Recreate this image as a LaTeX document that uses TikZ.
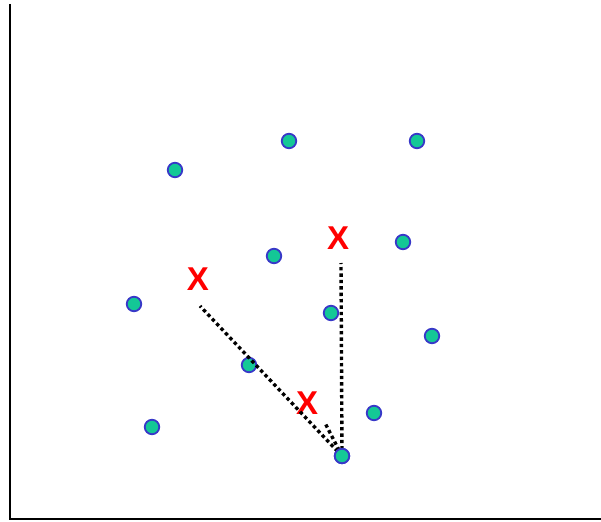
\documentclass[tikz,border=0pt]{standalone}
\usepackage{fontspec}
\setmainfont{Liberation Sans}
\definecolor{ptfill}{HTML}{14C896}
\definecolor{ptedge}{HTML}{3838C8}
\begin{document}
\begin{tikzpicture}[x=1pt,y=-1pt,
  pt/.style={circle,draw=ptedge,fill=ptfill,line width=1.8pt,minimum size=14.5pt,inner sep=0pt},
  xmark/.style={text=red,font=\fontsize{33}{33}\selectfont\bfseries,inner sep=0pt},
  dline/.style={line width=3.4pt,dash pattern=on 3.4pt off 3pt,line cap=butt},
  axis/.style={line width=1.5pt}]
\useasboundingbox (0,0) rectangle (601,521);
\coordinate (top) at (10,4);
\coordinate (orig) at (10,519);
\coordinate (right) at (601,519);
\draw[axis] (top) -- (orig) -- (right);
\node[pt] (p1) at (175,170) {};
\node[pt] (p2) at (289,141) {};
\node[pt] (p3) at (417,141) {};
\node[pt] (p4) at (274,256) {};
\node[pt] (p5) at (403,242) {};
\node[pt] (p6) at (134,304) {};
\node[pt] (p7) at (331,313) {};
\node[pt] (p8) at (432,336) {};
\node[pt] (p9) at (249,365) {};
\node[pt] (p10) at (374,413) {};
\node[pt] (p11) at (152,427) {};
\node[pt] (p12) at (342,456) {};
\node[xmark] (x1) at (198,279) {X};
\node[xmark] (x2) at (338,238) {X};
\node[xmark] (x3) at (307,403) {X};
\coordinate (e1) at (200,306);
\coordinate (e2) at (341,263);
\coordinate (e3) at (325,423);
\draw[dline] (p12.center) -- (e1);
\draw[dline] (p12.center) -- (e2);
\draw[dline] (p12.center) -- (e3);
\node[pt] at (p12) {};
\end{tikzpicture}
\end{document}
